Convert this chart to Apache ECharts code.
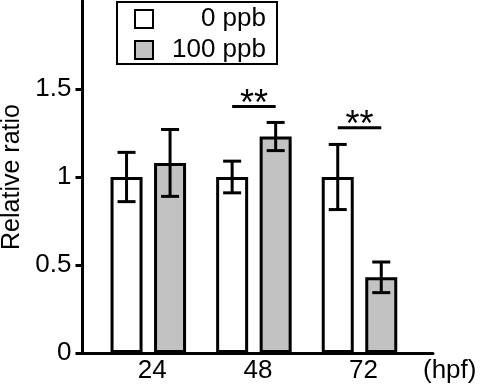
<!DOCTYPE html>
<html>
<head>
<meta charset="utf-8">
<script src="https://cdn.jsdelivr.net/npm/echarts@6/dist/echarts.min.js"></script>
<style>
  html, body { margin: 0; padding: 0; background: #fff; }
  #main { width: 484px; height: 387px; }
</style>
</head>
<body>
<div id="main"></div>
<script>
// data
var categories = ['24', '48', '72'];
var seriesNames = ['0 ppb', '100 ppb'];
var control = [1.0, 1.0, 1.0];
var controlErr = [0.14, 0.09, 0.185];
var treated = [1.08, 1.23, 0.43];
var treatedErr = [0.19, 0.08, 0.087];
var sigCategories = ['48', '72'];
var sigLevels = [1.4, 1.28];
var sigLabels = ['**', '**'];
var yTicks = [0, 0.5, 1, 1.5];

var FONT = '"Liberation Sans", Arial, sans-serif';
var BAR_W = 32;
var BAR_GAP = '36%';
var GRAY = '#c2c2c2';

function errData(vals, errs) {
  return vals.map(function (v, i) { return [i, v - errs[i], v + errs[i]]; });
}

// error bars (one custom series per bar series, k = bar slot)
function errorBarRenderer(k) {
  return function (params, api) {
    var layout = api.barLayout({ count: 2, barWidth: BAR_W, barGap: BAR_GAP });
    var x = api.value(0);
    var hi = api.coord([x, api.value(2)]);
    var lo = api.coord([x, api.value(1)]);
    var cx = hi[0] + layout[k].offsetCenter;
    var st = { stroke: '#000', lineWidth: 3, fill: null };
    return {
      type: 'group',
      children: [
        { type: 'line', shape: { x1: cx, y1: hi[1], x2: cx, y2: lo[1] }, style: st },
        { type: 'line', shape: { x1: cx - 9, y1: hi[1], x2: cx + 9, y2: hi[1] }, style: st },
        { type: 'line', shape: { x1: cx - 9, y1: lo[1], x2: cx + 9, y2: lo[1] }, style: st }
      ]
    };
  };
}

// significance line between the two bars + asterisks
function sigRenderer(params, api) {
  var layout = api.barLayout({ count: 2, barWidth: BAR_W, barGap: BAR_GAP });
  var p = api.coord([api.value(0), api.value(1)]);
  var x1 = p[0] + layout[0].offsetCenter;
  var x2 = p[0] + layout[1].offsetCenter;
  return {
    type: 'group',
    children: [
      { type: 'line', shape: { x1: x1, y1: p[1], x2: x2, y2: p[1] }, style: { stroke: '#000', lineWidth: 3 } },
      { type: 'text', x: (x1 + x2) / 2, y: p[1] - 2,
        style: { text: sigLabels[params.dataIndex], fontSize: 36, fontFamily: FONT, fill: '#000', align: 'center', verticalAlign: 'middle' } }
    ]
  };
}

var chart = echarts.init(document.getElementById('main'));
var option = {
  animation: false,
  backgroundColor: '#fff',
  textStyle: { fontFamily: FONT, color: '#000' },
  grid: [
    { left: 82.5, right: 51, top: 1, bottom: 34, outerBoundsMode: 'none' },
    { left: 95.5, right: 71.7, top: 1, bottom: 34, outerBoundsMode: 'none' }
  ],
  legend: {
    data: seriesNames,
    orient: 'vertical',
    left: 117, top: 2,
    padding: [4, 11, 1, 17],
    borderColor: '#000', borderWidth: 2,
    itemWidth: 18, itemHeight: 18, itemGap: 5,
    icon: 'rect',
    itemStyle: { borderWidth: 2 },
    selectedMode: false,
    formatter: function (n) { return '{t|' + n + '}'; },
    textStyle: {
      color: '#000', fontSize: 26, fontFamily: FONT,
      rich: { t: { width: 108, align: 'right', fontSize: 26, lineHeight: 30, fontFamily: FONT, color: '#000' } }
    }
  },
  xAxis: [
    {
      gridIndex: 0, type: 'value', min: 0, max: 1,
      axisLine: { show: true, lineStyle: { color: '#000', width: 3 } },
      axisTick: { show: false }, axisLabel: { show: false }, splitLine: { show: false },
      name: '(hpf)', nameLocation: 'end', nameGap: -10,
      nameTextStyle: { fontSize: 26, color: '#000', fontFamily: FONT, align: 'left', verticalAlign: 'top', padding: [5, 0, 0, 0] }
    },
    {
      gridIndex: 1, type: 'category', data: categories,
      axisLine: { show: false }, axisTick: { show: false },
      axisLabel: { fontSize: 26, color: '#000', fontFamily: FONT, margin: 5, padding: [0, 0, 0, 8] }
    }
  ],
  yAxis: [
    {
      gridIndex: 0, type: 'value', min: 0, max: 2,
      axisLine: { show: true, lineStyle: { color: '#000', width: 3 } },
      axisTick: { show: true, customValues: yTicks, length: 7, lineStyle: { color: '#000', width: 3 } },
      axisLabel: { customValues: yTicks, margin: 11, fontSize: 26, color: '#000', fontFamily: FONT },
      splitLine: { show: false },
      name: 'Relative ratio', nameLocation: 'middle', nameGap: 55,
      nameTextStyle: { fontSize: 25, color: '#000', fontFamily: FONT }
    },
    { gridIndex: 1, type: 'value', min: 0, max: 2, show: false }
  ],
  series: [
    {
      name: seriesNames[0], type: 'bar', xAxisIndex: 1, yAxisIndex: 1,
      data: control, barWidth: BAR_W, barGap: BAR_GAP,
      itemStyle: { color: '#fff', borderColor: '#000', borderWidth: 3 }
    },
    {
      name: seriesNames[1], type: 'bar', xAxisIndex: 1, yAxisIndex: 1,
      data: treated, barWidth: BAR_W, barGap: BAR_GAP,
      itemStyle: { color: GRAY, borderColor: '#000', borderWidth: 3 }
    },
    {
      type: 'custom', xAxisIndex: 1, yAxisIndex: 1, z: 5,
      renderItem: errorBarRenderer(0), data: errData(control, controlErr)
    },
    {
      type: 'custom', xAxisIndex: 1, yAxisIndex: 1, z: 5,
      renderItem: errorBarRenderer(1), data: errData(treated, treatedErr)
    },
    {
      type: 'custom', xAxisIndex: 1, yAxisIndex: 1, z: 5,
      renderItem: sigRenderer,
      data: sigCategories.map(function (c, i) { return [categories.indexOf(c), sigLevels[i]]; })
    }
  ]
};
chart.setOption(option);
</script>
</body>
</html>
